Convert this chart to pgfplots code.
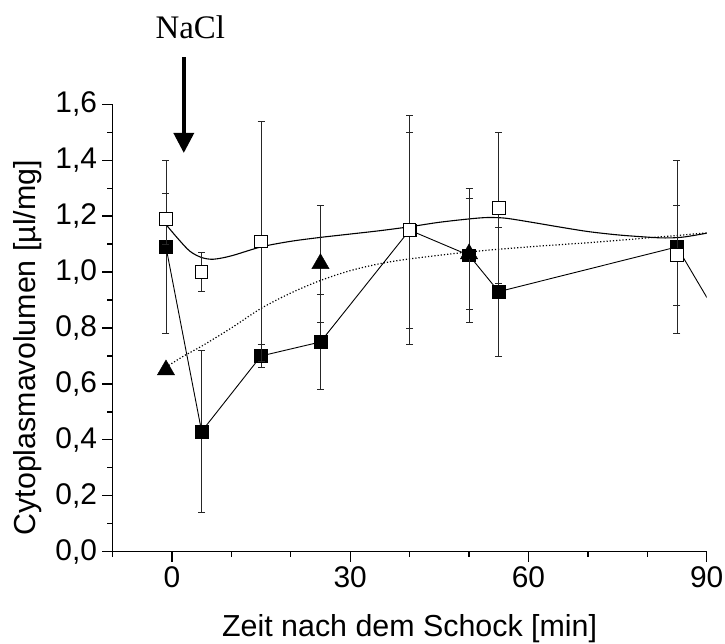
\documentclass[border=0pt]{standalone}
\usepackage{fontspec}
\setmainfont{Liberation Sans}
\newfontfamily\timesfont{Liberation Serif}
\usepackage{pgfplots}
\pgfplotsset{compat=1.18}
\usetikzlibrary{arrows.meta}

\pgfplotstableread{
x y e
-1 1.09 0.31
5 0.43 0.29
15 0.70 0.04
25 0.75 0.17
40 1.15 0.41
50 1.06 0.24
55 0.93 0.23
85 1.09 0.31
}\filled

\pgfplotstableread{
x y e
-1 1.19 0.09
5 1.00 0.07
15 1.11 0.43
40 1.15 0.35
55 1.23 0.27
85 1.06 0.18
}\opensq

\pgfplotstableread{
x y e
-1 0.65 0
25 1.03 0.21
50 1.065 0.20
}\tri

\begin{document}
\begin{tikzpicture}
\begin{axis}[
  name=ax,
  scale only axis, width=594.2bp, height=447.4bp,
  xmin=-10, xmax=90, ymin=0, ymax=1.6,
  axis x line=bottom, axis y line=left,
  axis line style={-, line width=1.5bp},
  xtick={0,30,60,90}, minor xtick={-10,10,20,40,50,70,80},
  ytick={0,0.2,0.4,0.6,0.8,1.0,1.2,1.4,1.6},
  minor ytick={0.1,0.3,0.5,0.7,0.9,1.1,1.3,1.5},
  tick align=outside,
  major tick length=10bp, minor tick length=5bp,
  every tick/.style={black, line width=1.3bp},
  /pgf/number format/assume math mode=true,
  ticklabel style={font=\fontsize{30}{35}\selectfont},
  yticklabel style={xshift=-2bp, /pgf/number format/.cd, fixed, fixed zerofill, precision=1, use comma},
  xticklabel style={yshift=-1bp},
  xlabel={Zeit nach dem Schock [min]},
  ylabel={Cytoplasmavolumen [µl/mg]},
  label style={font=\fontsize{30.5}{36}\selectfont},
  xlabel style={at={(axis description cs:0.5,-0.19)}, anchor=base},
  ylabel style={at={(axis description cs:-0.129,0.456)}, anchor=base, rotate=0},
  clip mode=individual,
]
% connecting line of filled squares
\addplot[black, line width=0.9bp] table[x=x,y=y] {\filled};
\addplot[black, line width=0.9bp] coordinates {(85,1.09) (95,0.73)};
% fit curves
\addplot[black, line width=1.1bp, smooth] coordinates {
(-1,1.17) (1,1.12) (3,1.075) (5,1.052) (7,1.046) (10,1.058) (15,1.09) (20,1.11)
(25,1.124) (30,1.136) (35,1.148) (40,1.162) (45,1.178) (50,1.19) (53,1.195)
(56,1.193) (60,1.18) (65,1.162) (70,1.145) (75,1.133) (80,1.125) (83,1.122)
(86,1.125) (90,1.139)};
\addplot[black, line width=1.2bp, dash pattern=on 1.2bp off 2bp, smooth] coordinates {
(-1,0.66) (2,0.70) (5,0.735) (10,0.80) (15,0.87) (20,0.925) (25,0.97)
(30,1.005) (35,1.03) (40,1.047) (50,1.072) (60,1.09) (70,1.105) (80,1.122) (90,1.14)};
% filled squares
\addplot[only marks, mark=square*, mark size=6.3bp, mark options={draw=black, fill=black, line width=0.5bp},
  error bars/.cd, y dir=both, y explicit,
  error bar style={line width=0.9bp, black!85},
  error mark options={rotate=90, mark size=3.5bp, line width=0.9bp, black!85}]
  table[x=x, y=y, y error=e] {\filled};
% open squares
\addplot[only marks, mark=square*, mark size=6.3bp, mark options={draw=black, fill=white, line width=1bp},
  error bars/.cd, y dir=both, y explicit,
  error bar style={line width=0.9bp, black!85},
  error mark options={rotate=90, mark size=3.5bp, line width=0.9bp, black!85}]
  table[x=x, y=y, y error=e] {\opensq};
% triangles
\addplot[only marks, mark=triangle*, mark size=10bp, mark options={draw=black, fill=black},
  error bars/.cd, y dir=both, y explicit,
  error bar style={line width=0.9bp, black!85},
  error mark options={rotate=90, mark size=3.5bp, line width=0.9bp, black!85}]
  table[x=x, y=y, y error=e] {\tri};
% NaCl annotation
\draw[line width=3.5bp, -{Triangle[width=20bp, length=20bp]}] (axis cs:2,1.769) -- (axis cs:2,1.426);
\node[anchor=base, font=\timesfont\fontsize{33}{38}\selectfont, inner sep=0pt] at (axis cs:3.1,1.834) {NaCl};
\end{axis}
\pgfresetboundingbox
\path ([xshift=-112.5bp,yshift=-92.3bp]ax.south west) rectangle ([xshift=18.3bp,yshift=104.3bp]ax.north east);
\end{tikzpicture}
\end{document}
